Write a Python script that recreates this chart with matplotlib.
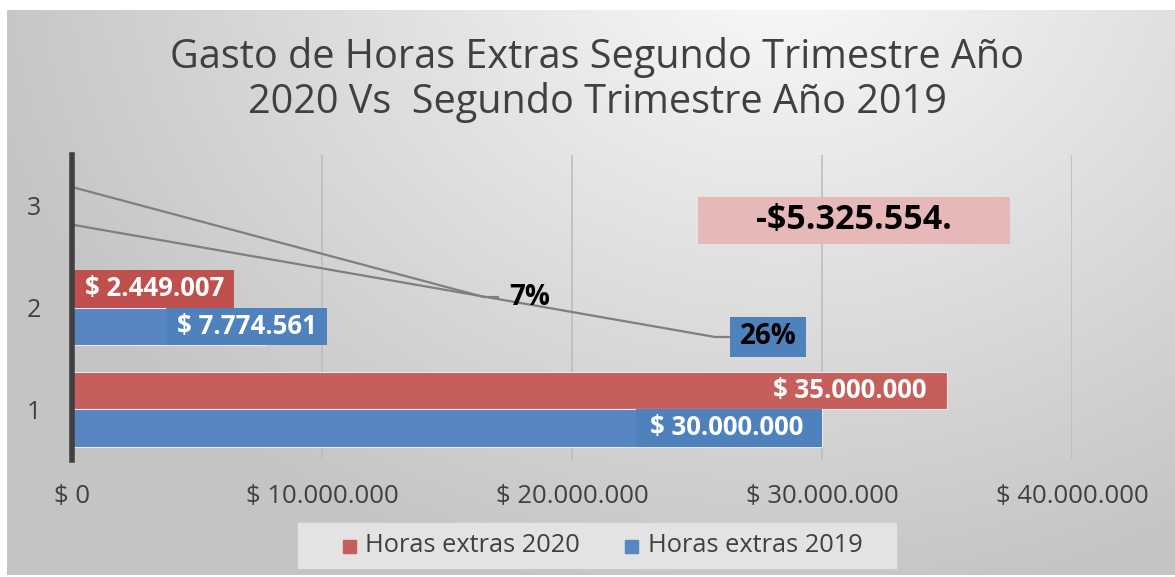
import numpy as np
import matplotlib
matplotlib.use("Agg")
import matplotlib.pyplot as plt
from matplotlib.patches import Rectangle

# ---------------- data ----------------
categories = ["1", "2", "3"]
horas_2020 = [35000000, 2449007, 0.07]
horas_2019 = [30000000, 7774561, 0.26]
labels_2020 = ["$ 35.000.000", "$ 2.449.007", "7%"]
labels_2019 = ["$ 30.000.000", "$ 7.774.561", "26%"]
diferencia_label = "-$5.325.554."
series_names = ["Horas extras 2020", "Horas extras 2019"]
xticks = [0, 10000000, 20000000, 30000000, 40000000]
xtick_labels = ["$ 0", "$ 10.000.000", "$ 20.000.000", "$ 30.000.000", "$ 40.000.000"]
title = "Gasto de Horas Extras Segundo Trimestre Año\n2020 Vs  Segundo Trimestre Año 2019"

# ---------------- style ----------------
FONT = "Open Sans"
RED_BAR, BLUE_BAR = "#C65E5C", "#5886C2"
RED, BLUE = "#C0504D", "#4F81BD"
PINK = "#E6B9B8"
TXT = "#404040"
W, H = 1175, 577

fig = plt.figure(figsize=(W / 100, H / 100), dpi=100)

# background gradient
bg = fig.add_axes([0, 0, 1, 1], zorder=-10)
yy, xx = np.mgrid[0:H, 0:W]
d = np.sqrt((xx - 780.0) ** 2 + ((yy + 40.0) * 1.25) ** 2)
v = 250 - 54 * np.clip(d / 820.0, 0, 1)
img = np.dstack([v, v, v]) / 255.0
img[:10, :, :] = 1.0
img[:, :7, :] = 1.0
img[-2:, :, :] = 1.0
bg.imshow(img, aspect="auto", extent=[0, 1, 0, 1], origin="upper")
bg.set_axis_off()

# main axes
ax = fig.add_axes([72 / W, 1 - 460 / H, 1000 / W, 305 / H])
ax.patch.set_alpha(0)
ax.set_xlim(0, 40000000)
ax.set_ylim(0.5, 3.5)

ypos = np.arange(1, len(categories) + 1)
bh = 0.37
off = 0.185
ax.barh(ypos + off, horas_2020, height=bh, color=RED_BAR, edgecolor="#e8e8e8", lw=0.8, zorder=3)
ax.barh(ypos - off, horas_2019, height=bh, color=BLUE_BAR, edgecolor="#e8e8e8", lw=0.8, zorder=3)

ax.set_xticks(xticks)
ax.set_xticklabels(xtick_labels, fontsize=18.5, color=TXT, family=FONT)
ax.set_yticks(ypos)
ax.set_yticklabels(categories, fontsize=18, color=TXT, family=FONT)
ax.tick_params(axis="x", length=0, pad=17)
ax.tick_params(axis="y", length=0, pad=22)
ax.xaxis.grid(True, color="#bdbdbd", lw=1.2, zorder=0)
ax.set_axisbelow(True)
for s in ["top", "right", "bottom"]:
    ax.spines[s].set_visible(False)
ax.spines["left"].set_color("#404040")
ax.spines["left"].set_linewidth(4)
ax.spines["left"].set_zorder(5)

M = 1e6
lbl_kw = dict(color="white", fontsize=18.5, fontweight="bold", family=FONT,
              ha="center", va="center", zorder=6)

# category 1 labels (inside end)
ax.text(horas_2020[0] - 3.9 * M, ypos[0] + off, labels_2020[0], **lbl_kw)
ax.add_patch(Rectangle((horas_2019[0] - 7.44 * M, ypos[0] - off - bh / 2), 7.44 * M, bh,
                       color=BLUE, zorder=4, lw=0))
ax.text(horas_2019[0] - 3.8 * M, ypos[0] - off, labels_2019[0], **lbl_kw)

# category 2 labels
ax.add_patch(Rectangle((0, ypos[1] + off - bh / 2), 6.48 * M, bh, color=RED, zorder=4, lw=0))
ax.text(3.3 * M, ypos[1] + off, labels_2020[1], **lbl_kw)
ax.add_patch(Rectangle((3.76 * M, ypos[1] - off - bh / 2), 6.44 * M, bh, color=BLUE, zorder=4, lw=0))
ax.text(7.0 * M, ypos[1] - off, labels_2019[1], **lbl_kw)

# category 3 labels with leader lines
ax.plot([horas_2020[2], 16.48 * M, 17.08 * M], [ypos[2] + off, 2.103, 2.103],
        color="#7f7f7f", lw=1.6, zorder=5, solid_capstyle="butt")
ax.text(18.32 * M, 2.103, labels_2020[2], color="black", fontsize=20, fontweight="bold",
        family=FONT, ha="center", va="center", zorder=6)
ax.plot([horas_2019[2], 25.72 * M, 26.32 * M], [ypos[2] - off, 1.71, 1.71],
        color="#7f7f7f", lw=1.6, zorder=5, solid_capstyle="butt")
ax.add_patch(Rectangle((26.32 * M, 1.513), 3.04 * M, 0.394, color=BLUE, zorder=4, lw=0))
ax.text(27.84 * M, 1.71, labels_2019[2], color="black", fontsize=20, fontweight="bold",
        family=FONT, ha="center", va="center", zorder=6)

# difference box
ax.add_patch(Rectangle((25.04 * M, 2.625), 12.48 * M, 0.462, color=PINK, zorder=4, lw=0))
ax.text(31.28 * M, 2.856, diferencia_label, color="black", fontsize=24.5, fontweight="bold",
        family=FONT, ha="center", va="center", zorder=6)

# title
fig.text(597 / W, 1 - 80 / H, title, ha="center", va="center", fontsize=28.5,
         color=TXT, family=FONT, linespacing=1.12)

# legend (manual)
fig.patches.append(Rectangle((298 / W, 1 - 568 / H), 598 / W, 45 / H, transform=fig.transFigure,
                             color="#e3e3e3", zorder=1))
leg_y = 1 - 546 / H
fig.patches.append(Rectangle((343 / W, leg_y - 6.5 / H), 13 / W, 13 / H,
                             transform=fig.transFigure, color=RED_BAR, zorder=2))
fig.text(365 / W, leg_y, series_names[0], fontsize=18.3, color=TXT, family=FONT, va="center", ha="left")
fig.patches.append(Rectangle((625 / W, leg_y - 6.5 / H), 13 / W, 13 / H,
                             transform=fig.transFigure, color=BLUE_BAR, zorder=2))
fig.text(648 / W, leg_y, series_names[1], fontsize=18.3, color=TXT, family=FONT, va="center", ha="left")

fig.savefig("out.png", dpi=100)
